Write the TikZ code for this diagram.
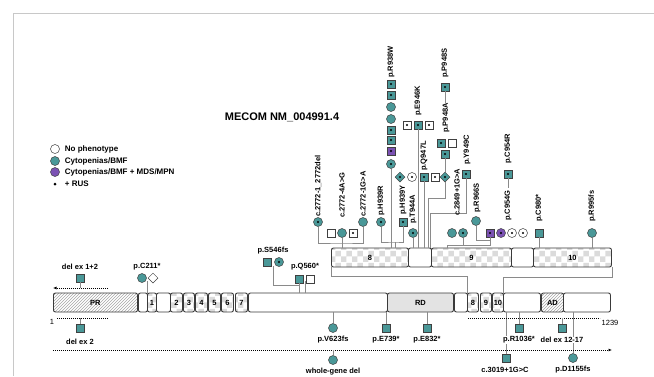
\documentclass[tikz,border=0pt]{standalone}
\usepackage{fontspec}
\setmainfont{Liberation Sans}
\usetikzlibrary{arrows.meta,positioning,patterns,shapes.geometric}
\definecolor{mteal}{HTML}{4A9898}
\definecolor{mpurple}{HTML}{7B52B3}
\definecolor{boxline}{HTML}{3A3A3A}
\definecolor{wiregray}{HTML}{8A8A8A}
\definecolor{framegray}{HTML}{C8C8C8}
\newcommand{\lab}{\fontsize{7.5}{8}\selectfont\bfseries}
\newcommand{\legfont}{\fontsize{8}{9}\selectfont\bfseries}
\tikzset{
  seg/.style={rectangle,rounded corners=2pt,draw=boxline,line width=0.9pt,minimum height=19pt,inner sep=0pt,anchor=west,font=\lab},
  blank/.style={seg,fill=white},
  exon/.style={seg,pattern=checkerboard,pattern color=gray!28},
  hatch/.style={seg,pattern=north east lines,pattern color=gray!70},
  rdbox/.style={seg,fill=gray!22},
  sym/.style={draw=black!75,line width=0.5pt,inner sep=0pt},
  sqt/.style={sym,rectangle,minimum size=7.5pt,fill=mteal},
  sqw/.style={sym,rectangle,minimum size=7.5pt,fill=white},
  sqp/.style={sym,rectangle,minimum size=7.5pt,fill=mpurple},
  cit/.style={sym,circle,minimum size=9pt,fill=mteal},
  ciw/.style={sym,circle,minimum size=9pt,fill=white},
  cip/.style={sym,circle,minimum size=9pt,fill=mpurple},
  dit/.style={sym,diamond,minimum size=10pt,fill=mteal},
  diw/.style={sym,diamond,minimum size=10pt,fill=white},
  rus/.style={path picture={\fill[black] (path picture bounding box.center) circle (1.1pt);}},
  wire/.style={draw=wiregray,line width=0.8pt},
  delline/.style={draw=black,line width=0.8pt,dash pattern=on 0.8pt off 1.2pt},
  mlab/.style={font=\lab,rotate=90,anchor=west,inner sep=0pt},
  mlabh/.style={font=\lab,inner sep=0.6pt,fill=white},
  numlab/.style={font=\fontsize{7.5}{8}\selectfont,inner sep=0pt},
  legtext/.style={font=\legfont,inner sep=0pt,anchor=west}
}
\begin{document}
\begin{tikzpicture}[x=1pt,y=-1pt]
  \useasboundingbox (0,0) rectangle (654,376);
  \draw[framegray,line width=1pt] (13,376) -- (13,13) -- (654,13);

  % title and legend
  \node[font=\fontsize{11}{12}\selectfont\bfseries,inner sep=0pt] (title) at (282,117) {MECOM NM\_004991.4};
  \node[ciw] (lg1) at (55,149) {};
  \node[cit] (lg2) at (55,161) {};
  \node[cip] (lg3) at (55,172) {};
  \node[circle,fill=black,inner sep=0pt,minimum size=3pt] (lg4) at (55,184) {};
  \node[legtext,right=5pt of lg1] (lt1) {No phenotype};
  \node[legtext,right=5pt of lg2] (lt2) {Cytopenias/BMF};
  \node[legtext,right=5pt of lg3] (lt3) {Cytopenias/BMF + MDS/MPN};
  \node[legtext,right=8pt of lg4] (lt4) {+ RUS};

  % protein bar
  \node[hatch,minimum width=84pt] (pr) at (53,302.5) {PR};
  \node[blank,minimum width=9pt] (w1) at (138,302.5) {};
  \node[exon,minimum width=9pt] (e1) at (147,302.5) {1};
  \node[blank,minimum width=14pt] (w2) at (156,302.5) {};
  \node[exon,minimum width=12pt] (e2) at (170,302.5) {2};
  \node[exon,minimum width=11pt] (e3) at (183,302.5) {3};
  \node[exon,minimum width=12pt] (e4) at (195,302.5) {4};
  \node[exon,minimum width=12pt] (e5) at (208,302.5) {5};
  \node[exon,minimum width=12pt] (e6) at (221,302.5) {6};
  \node[exon,minimum width=12pt] (e7) at (235,302.5) {7};
  \node[blank,minimum width=139pt] (w3) at (248,302.5) {};
  \node[rdbox,minimum width=66pt] (rd) at (387,302.5) {RD};
  \node[blank,minimum width=13pt] (w4) at (454,302.5) {};
  \node[exon,minimum width=11pt] (e8) at (467,302.5) {8};
  \node[exon,minimum width=11pt] (e9) at (480,302.5) {9};
  \node[exon,minimum width=11pt] (e10) at (492,302.5) {10};
  \node[blank,minimum width=37pt] (w5) at (503,302.5) {};
  \node[hatch,minimum width=22pt] (ad) at (541,302.5) {AD};
  \node[blank,minimum width=47pt] (w6) at (563,302.5) {};

  % exons 8-10 enlarged
  \node[exon,minimum width=77pt] (u8) at (331,257.5) {8};
  \node[blank,minimum width=23pt] (uw1) at (408,257.5) {};
  \node[exon,minimum width=80pt] (u9) at (431,257.5) {9};
  \node[blank,minimum width=22pt] (uw2) at (511,257.5) {};
  \node[exon,minimum width=78pt] (u10) at (533,257.5) {10};
  \draw[wire] (u8.south west) -- ++(0,9) -| (e8.north west);
  \draw[wire] (u10.south east) -- ++(0,10) -| (w5.north west);

  % variants above exon 8
  \node[cit,rus] (c2772d) at (318,222) {};
  \node[sqw] (c2772w) at (331,233) {};
  \node[cit] (c2772g) at (342,233) {};
  \node[sqw,rus] (c2772r) at (353,233) {};
  \node[cit] (c2772a) at (363,222) {};
  \coordinate (j2772) at (342,243);
  \draw[wire] (c2772d) |- (j2772) -| (c2772a);
  \draw[wire] (c2772g) -- (c2772g |- u8.north);

  \node[sqt,rus] (r938a) at (391,84) {};
  \node[sqt,rus] (r938b) at (391,95) {};
  \node[cit] (r938c) at (391,107) {};
  \node[cit] (r938d) at (391,119) {};
  \node[sqt,rus] (r938e) at (391,130) {};
  \node[sqt,rus] (r938f) at (391,140) {};
  \node[sqp,rus] (r938g) at (391,151) {};
  \node[cit,rus] (r938h) at (391,164) {};
  \draw[wire] (r938h) -- (r938h |- u8.north);

  \node[cit,rus] (h939r) at (381,222) {};
  \node[sqt,rus] (h939y) at (403,222) {};
  \node[dit,rus] (h939d) at (400,177) {};
  \coordinate (j939) at (395,242);
  \draw[wire] (h939r) |- (j939) -| (h939y);
  \draw[wire] (j939) -- (j939 |- u8.north);

  % variants between exon 8 and 9
  \node[ciw,rus] (t944w) at (412,177) {};
  \node[cit,rus] (t944a) at (413,233) {};
  \draw[wire] (t944a) -- (t944a |- uw1.north);

  \node[sqw,rus] (e946a) at (407,125) {};
  \node[sqt,rus] (e946k) at (418,125) {};
  \node[sqw,rus] (e946b) at (429,125) {};
  \draw[wire] (e946k) -- (e946k |- uw1.north);

  \node[sqt,rus] (q947l) at (424,177) {};
  \node[sqw,rus] (q947w) at (435,177) {};
  \draw[wire] (q947l) -- (q947l |- uw1.north);

  \node[sqt,rus] (p948s) at (445,87) {};
  \coordinate (p948t) at (445,103);
  \draw[wire] (p948s) -- (p948t);
  \node[sqt,rus] (p948a) at (441,143) {};
  \node[sqw] (p948w) at (452,143) {};
  \node[sqt,rus] (p948b) at (445,154) {};
  \node[dit,rus] (p948d) at (445,177) {};
  \coordinate (j948) at (428,198);
  \draw[wire] (p948b) -- (p948d);
  \draw[wire] (p948d) |- (j948) -- (j948 |- uw1.north);

  \node[sqt,rus] (y949c) at (466,174) {};
  \coordinate (j949) at (430,213);
  \draw[wire] (y949c) |- (j949) -- (j949 |- uw1.north);

  % variants above exon 9 and 10
  \node[cit] (c2849a) at (452,233) {};
  \node[cit,rus] (c2849b) at (463,233) {};
  \node[cit] (r966s) at (476,221) {};
  \node[sqt,rus] (c954r) at (508,174) {};
  \coordinate (c954t) at (508,188);
  \draw[wire] (c954r) -- (c954t);
  \node[sqp,rus] (c954a) at (490,233) {};
  \node[cip,rus] (c954b) at (501,233) {};
  \node[ciw,rus] (c954c) at (512,233) {};
  \node[ciw,rus] (c954d) at (523,233) {};
  \coordinate (j9a) at (447,245);
  \coordinate (j966) at (490,240);
  \draw[wire] (c954a) |- (j9a) -- (j9a |- u9.north);
  \draw[wire] (r966s) |- (j966);
  \draw[wire] (c2849b) -- (c2849b |- j9a);

  \node[sqt] (c980) at (539,233) {};
  \draw[wire] (c980) -- (c980 |- u10.north);
  \node[cit] (r995) at (592,233) {};
  \draw[wire] (r995) -- (r995 |- u10.north);

  % upper labels
  \node[mlab] (lc2772d) at (318,217) {c.2772-1\_2772del};
  \node[mlab] (lc2772g) at (342,218) {c.2772-4A>G};
  \node[mlab] (lc2772a) at (363,217) {c.2772-1G>A};
  \node[mlab] (lr938) at (391,78) {p.R938W};
  \node[mlab] (lh939r) at (381,216) {p.H939R};
  \node[mlab] (lh939y) at (403,215) {p.H939Y};
  \node[mlab] (lt944a) at (413,224) {p.T944A};
  \node[mlab] (le946k) at (418,116) {p.E946K};
  \node[mlab] (lq947l) at (424,171) {p.Q947L};
  \node[mlab] (lp948s) at (445,78) {p.P948S};
  \node[mlab] (lp948a) at (446,133) {p.P948A};
  \node[mlab] (ly949c) at (467,165) {p.Y949C};
  \node[mlab] (lc2849) at (457,216) {c.2849+1G>A};
  \node[mlab] (lr966s) at (477,213) {p.R966S};
  \node[mlab] (lc954r) at (508,164) {p.C954R};
  \node[mlab] (lc954g) at (508,221) {p.C954G};
  \node[mlab] (lc980) at (539,222) {p.C980*};
  \node[mlab] (lr995) at (592,222) {p.R995fs};

  % variants above the bar
  \node[sqt] (sd12) at (80,278) {};
  \coordinate (d12r) at (108,288);
  \coordinate (d12l) at (53,288);
  \draw[delline,-{Latex[length=3.5pt,width=3pt]}] (d12r) -- (d12l);
  \draw[wire] (sd12) -- (sd12 |- d12r);

  \node[cit] (c211) at (142,278) {};
  \node[diw] (c211d) at (153,278) {};
  \coordinate (c211j) at (147,281);
  \draw[wire] (c211j) -- (c211j |- e1.north);

  \node[sqt] (s546) at (267,262) {};
  \node[cit,rus] (s546b) at (279,262) {};
  \node[sqt] (q560) at (299,279) {};
  \node[sqw] (q560w) at (310,279) {};
  \coordinate (s546j) at (273,266);
  \coordinate (s546e) at (299,285);
  \coordinate (q560x) at (305,281);
  \draw[wire] (s546j) |- (s546e);
  \draw[wire] (q560) -- (q560 |- w3.north);
  \draw[wire] (q560x) -- (q560x |- w3.north);

  % variants below the bar
  \coordinate (d2l) at (57,318);
  \coordinate (d2r) at (108,318);
  \draw[delline] (d2l) -- (d2r);
  \node[sqt] (sd2) at (80,328) {};
  \draw[wire] (sd2) -- (sd2 |- d2l);

  \node[cit] (v623) at (333,328) {};
  \draw[wire] (v623) -- (v623 |- w3.south);
  \node[sqt] (e739) at (386,328) {};
  \draw[wire] (e739) -- (e739 |- rd.south);
  \node[sqt] (e832) at (427,328) {};
  \draw[wire] (e832) -- (e832 |- rd.south);
  \node[sqt] (r1036) at (519,328) {};
  \draw[wire] (r1036) -- (r1036 |- w5.south);
  \node[sqt] (c3019) at (506,358) {};
  \draw[wire] (c3019) -- (c3019 |- w5.south);
  \node[cit] (d1155) at (573,358) {};
  \draw[wire] (d1155) -- (d1155 |- w6.south);

  \coordinate (d1217l) at (468,318);
  \coordinate (d1217r) at (600,318);
  \draw[delline] (d1217l) -- (d1217r);
  \node[sqt] (sd1217) at (562,328) {};
  \draw[wire] (sd1217) -- (sd1217 |- d1217l);

  \coordinate (wgl) at (53,350);
  \coordinate (wgr) at (612,350);
  \draw[delline,-{Latex[length=3.5pt,width=3pt]}] (wgl) -- (wgr);
  \node[cit] (wgd) at (333,360) {};
  \draw[wire] (wgd) -- (wgd |- wgl);

  % horizontal labels
  \node[mlabh] (ld12) at (80,267) {del ex 1+2};
  \node[mlabh] (lc211) at (147,267) {p.C211*};
  \node[mlabh] (ls546) at (273,251) {p.S546fs};
  \node[mlabh] (lq560) at (305,267) {p.Q560*};
  \node[numlab] (n1) at (52,322) {1};
  \node[numlab] (n1239) at (610,323) {1239};
  \node[mlabh] (ld2) at (80,342) {del ex 2};
  \node[mlabh] (lv623) at (333,340) {p.V623fs};
  \node[mlabh] (le739) at (386,340) {p.E739*};
  \node[mlabh] (le832) at (427,340) {p.E832*};
  \node[mlabh] (lr1036) at (519,340) {p.R1036*};
  \node[mlabh] (ld1217) at (562,340) {del ex 12-17};
  \node[mlabh] (lc3019) at (505,370) {c.3019+1G>C};
  \node[mlabh] (ld1155) at (573,370) {p.D1155fs};
  \node[mlabh] (lwgd) at (333,372) {whole-gene del};
\end{tikzpicture}
\end{document}
